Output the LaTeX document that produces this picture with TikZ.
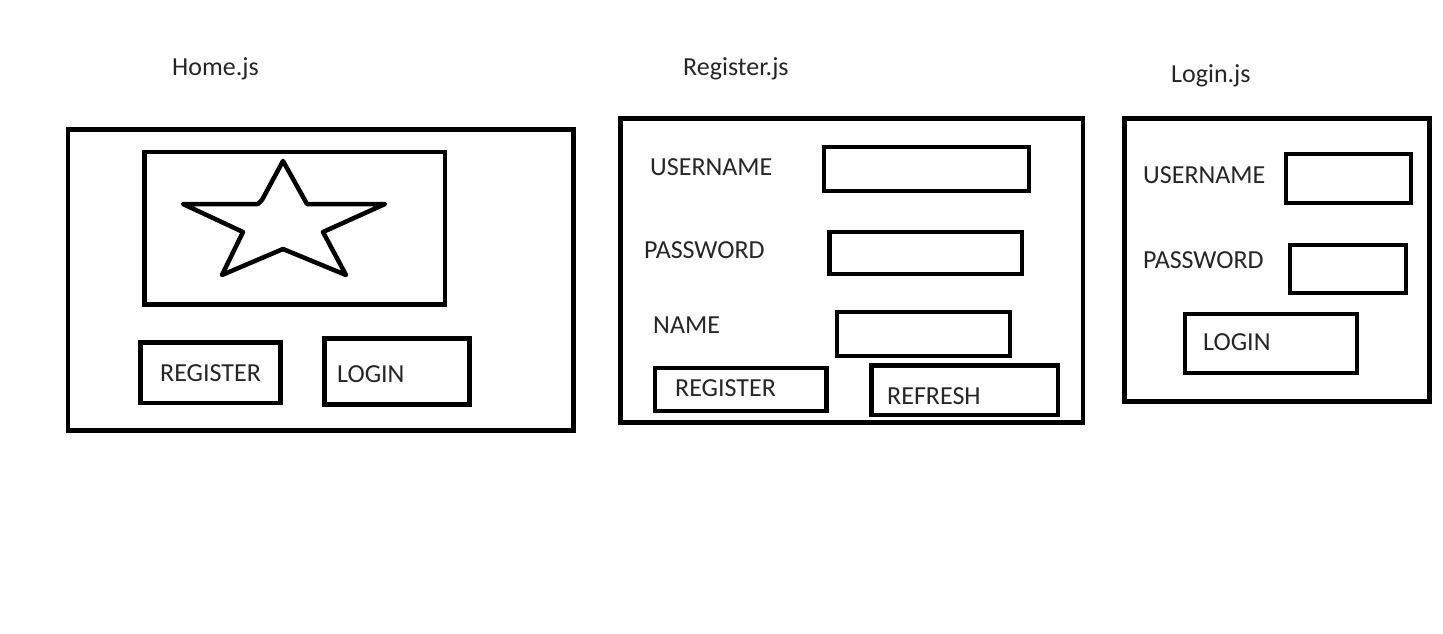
\documentclass[tikz,border=0pt]{standalone}
\usepackage{fontspec}
\setmainfont{Carlito}
\begin{document}
\begin{tikzpicture}[x=1pt,y=-1pt,
  frame/.style={draw=black,line width=4.5pt,line join=miter},
  lbl/.style={anchor=base west,inner sep=0pt,font=\fontsize{26}{30}\selectfont,text=black!85}]
\useasboundingbox[fill=white] (0,0) rectangle (1443,633);
% ---------- Home.js ----------
\node[lbl] (homet) at (172,75) {Home.js};
\draw[frame] (68,129.5) rectangle (573.5,430.5);
\draw[frame] (144.5,152) rectangle (445,304.5);
\draw[line width=4.5pt,line join=round,line cap=round]
  (283,161) -- (307,204) -- (385,204) -- (323,232) -- (346,275) -- (283,249)
  -- (222,275) -- (243,232) -- (183,204) -- (258,204) -- (262,200) -- cycle;
\draw[frame] (140.5,342.5) rectangle (280.5,403);
\node[lbl] (homereg) at (160,381) {REGISTER};
\draw[frame] (324.5,338.5) rectangle (469.5,404.5);
\node[lbl] (homelog) at (337,382) {LOGIN};
% ---------- Register.js ----------
\node[lbl] (regt) at (683,75) {Register.js};
\draw[frame] (620.5,118.5) rectangle (1083,422.5);
\node[lbl] (ruser) at (650,175) {USERNAME};
\draw[frame] (824,147) rectangle (1029,191);
\node[lbl] (rpass) at (644,258) {PASSWORD};
\draw[frame] (829.5,232) rectangle (1022,274);
\node[lbl] (rname) at (653,333) {NAME};
\draw[frame] (837,312) rectangle (1010,356);
\draw[frame] (655,368) rectangle (826.5,411);
\node[lbl] (rreg) at (675,396) {REGISTER};
\draw[frame] (871.5,365.5) rectangle (1058,415);
\node[lbl] (rref) at (887,404) {REFRESH};
% ---------- Login.js ----------
\node[lbl] (logt) at (1171,82) {Login.js};
\draw[frame] (1124.5,118.5) rectangle (1429.5,401.5);
\node[lbl] (luser) at (1143,183) {USERNAME};
\draw[frame] (1286,154) rectangle (1411,203);
\node[lbl] (lpass) at (1143,268) {PASSWORD};
\draw[frame] (1290,245) rectangle (1406,293);
\draw[frame] (1185,314) rectangle (1357,373);
\node[lbl] (llog) at (1203,350) {LOGIN};
\end{tikzpicture}
\end{document}
